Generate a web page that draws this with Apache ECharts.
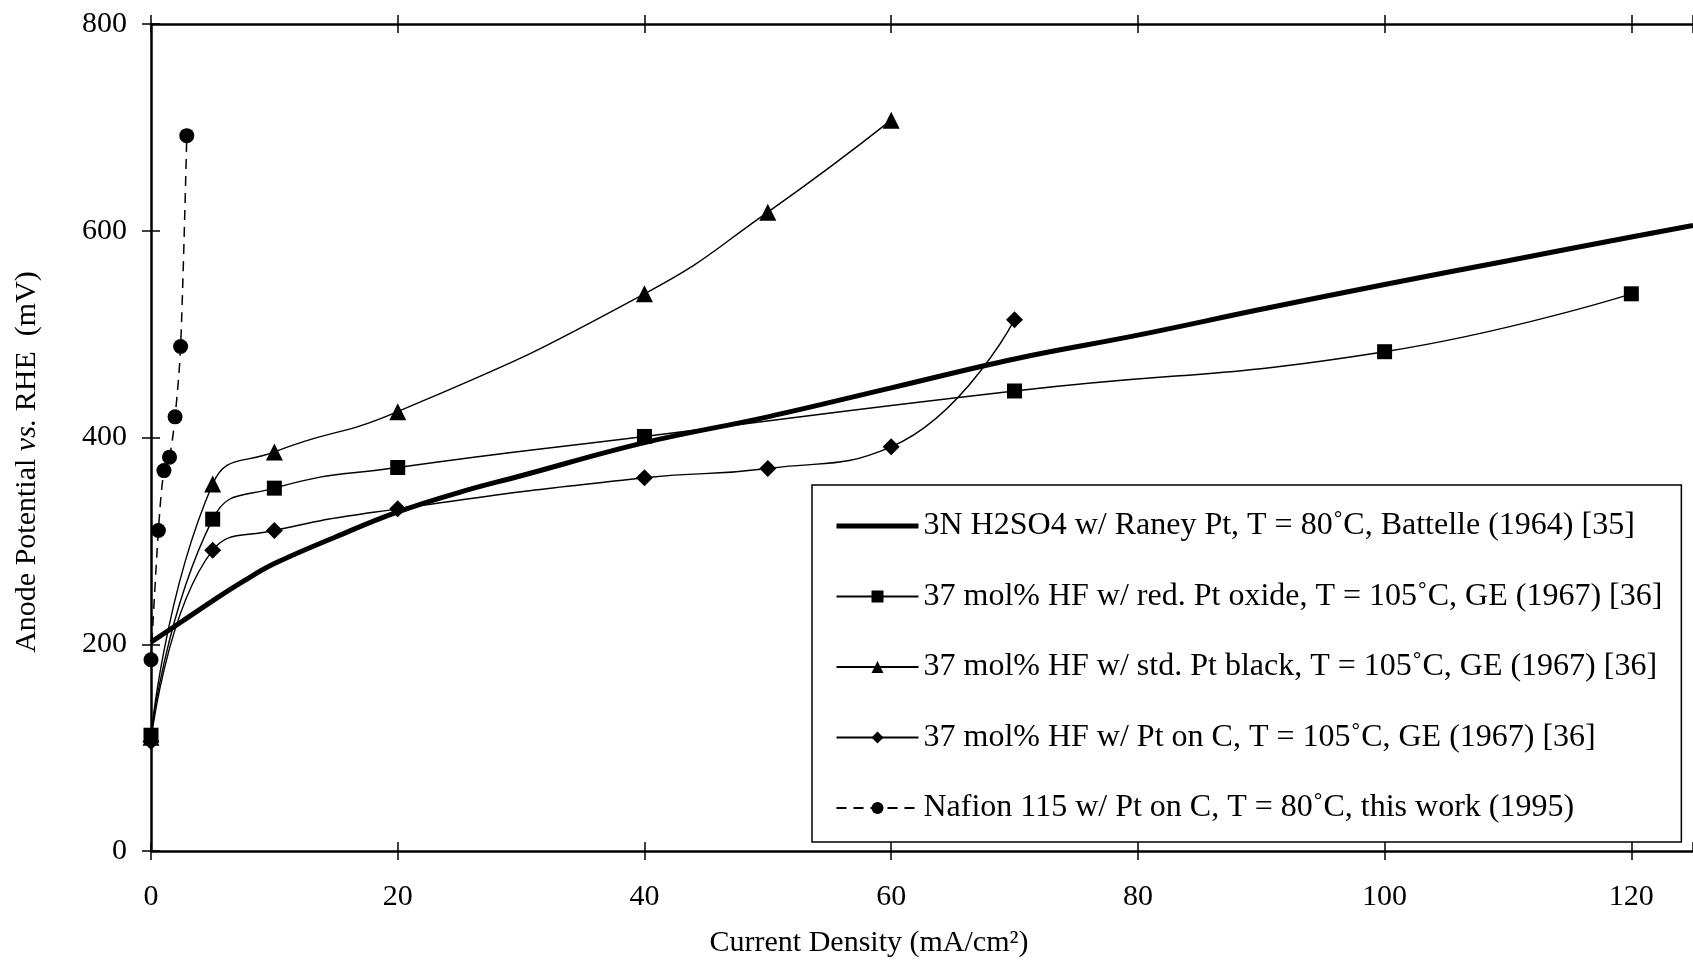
<!DOCTYPE html>
<html>
<head>
<meta charset="utf-8">
<script src="https://cdn.jsdelivr.net/npm/echarts@6/dist/echarts.min.js"></script>
<style>
  html, body { margin: 0; padding: 0; background: #fff; }
  #chart { width: 1693px; height: 960px; }
</style>
</head>
<body>
<div id="chart"></div>
<script>
// series names (legend)
const names = [
  '3N H2SO4 w/ Raney Pt, T = 80\u02DAC, Battelle (1964) [35]',
  '37 mol% HF w/ red. Pt oxide, T = 105\u02DAC, GE (1967) [36]',
  '37 mol% HF w/ std. Pt black, T = 105\u02DAC, GE (1967) [36]',
  '37 mol% HF w/ Pt on C, T = 105\u02DAC, GE (1967) [36]',
  'Nafion 115 w/ Pt on C, T = 80\u02DAC, this work (1995)'
]

// current density (mA/cm2) / anode potential (mV)
const battelleX = [0, 2.5, 5, 7.5, 10, 15, 20, 25, 30, 40, 50, 60, 70, 80, 90, 100, 110, 120, 125]
const battelleY = [202, 222, 242, 261, 278, 304, 328, 347, 363, 395, 420, 448, 476, 499, 524, 548, 571, 594, 605]

const oxideX = [0, 5, 10, 20, 40, 70, 100, 120]
const oxideY = [112, 321, 351, 371, 401, 445, 483, 539]

const blackX = [0, 5, 10, 20, 40, 50, 60]
const blackY = [110, 355, 386, 425, 539, 618, 707]

const carbonX = [0, 5, 10, 20, 40, 50, 60, 70]
const carbonY = [106, 291, 310, 331, 361, 370, 391, 514]

const nafionX = [0, 0.6, 1.05, 1.5, 1.95, 2.4, 2.9]
const nafionY = [185, 310, 368, 381, 420, 488, 692]

const xTicks = [0, 20, 40, 60, 80, 100, 120]
const yTicks = [0, 200, 400, 600, 800]

const zip = (xs, ys) => xs.map((x, i) => [x, ys[i]])

const FONT = 'Liberation Serif'
const X_MAX = 125

const chart = echarts.init(document.getElementById('chart'))

const baseX = {
  type: 'value',
  min: 0,
  max: X_MAX,
  interval: 20,
  splitLine: { show: false }
}
const baseY = {
  type: 'value',
  min: 0,
  max: 800,
  interval: 200,
  splitLine: { show: false }
}
const axisLine = { show: true, lineStyle: { color: '#000', width: 2.5 } }
const tickOut = { show: true, inside: false, length: 9, lineStyle: { color: '#000', width: 1.5 } }
const tickIn = { show: true, inside: true, length: 9, lineStyle: { color: '#000', width: 1.5 } }

const thin = { color: '#000', width: 1.4 }

const option = {
  backgroundColor: '#fff',
  animation: false,
  grid: { left: 151, right: 0, top: 24, bottom: 109, containLabel: false },
  xAxis: [
    {
      ...baseX,
      position: 'bottom',
      axisLine: axisLine,
      axisTick: tickOut,
      axisLabel: {
        margin: 31,
        color: '#000',
        fontFamily: FONT,
        fontSize: 30,
        showMaxLabel: false,
        formatter: v => (xTicks.includes(v) ? String(v) : '')
      }
    },
    { ...baseX, position: 'bottom', axisLine: { show: false }, axisTick: tickIn, axisLabel: { show: false } },
    { ...baseX, position: 'top', axisLine: axisLine, axisTick: tickOut, axisLabel: { show: false } },
    { ...baseX, position: 'top', axisLine: { show: false }, axisTick: tickIn, axisLabel: { show: false } }
  ],
  yAxis: [
    {
      ...baseY,
      position: 'left',
      axisLine: axisLine,
      axisTick: tickOut,
      axisLabel: {
        margin: 24,
        color: '#000',
        fontFamily: FONT,
        fontSize: 30,
        formatter: v => (yTicks.includes(v) ? String(v) : '')
      }
    },
    { ...baseY, position: 'left', axisLine: { show: false }, axisTick: tickIn, axisLabel: { show: false } }
  ],
  legend: {
    orient: 'vertical',
    left: 812,
    top: 485,
    padding: [25, 19, 18, 22],
    itemGap: 38.5,
    itemWidth: 82,
    itemHeight: 15,
    borderColor: '#000',
    borderWidth: 1.5,
    backgroundColor: '#fff',
    textStyle: { color: '#000', fontFamily: FONT, fontSize: 32, lineHeight: 30 },
    data: [
      {
        name: names[0],
        itemStyle: { color: 'rgba(0,0,0,0)', borderWidth: 0 },
        lineStyle: { color: '#000', width: 5 }
      },
      names[1],
      names[2],
      names[3],
      names[4]
    ]
  },
  graphic: [
    {
      type: 'text',
      x: 27,
      y: 462,
      rotation: Math.PI / 2,
      style: {
        text: '{a|Anode Potential }{i|vs.}{a| RHE  (mV)}',
        align: 'center',
        verticalAlign: 'middle',
        rich: {
          a: { fontFamily: FONT, fontSize: 30, fill: '#000' },
          i: { fontFamily: FONT, fontSize: 30, fontStyle: 'italic', fill: '#000' }
        }
      }
    },
    {
      type: 'text',
      x: 869,
      y: 943,
      style: {
        text: 'Current Density (mA/cm\u00B2)',
        align: 'center',
        verticalAlign: 'middle',
        fontFamily: FONT,
        fontSize: 30,
        fill: '#000'
      }
    }
  ],
  series: [
    {
      name: names[0],
      type: 'line',
      data: zip(battelleX, battelleY),
      smooth: 0.4,
      symbol: 'none',
      lineStyle: { color: '#000', width: 5 },
      itemStyle: { color: '#000' },
      z: 3
    },
    {
      name: names[1],
      type: 'line',
      data: zip(oxideX, oxideY),
      smooth: 0.5,
      symbol: 'rect',
      symbolSize: 15,
      lineStyle: thin,
      itemStyle: { color: '#000' }
    },
    {
      name: names[2],
      type: 'line',
      data: zip(blackX, blackY),
      smooth: 0.5,
      symbol: 'triangle',
      symbolSize: 17,
      lineStyle: thin,
      itemStyle: { color: '#000' }
    },
    {
      name: names[3],
      type: 'line',
      data: zip(carbonX, carbonY),
      smooth: 0.5,
      symbol: 'diamond',
      symbolSize: 17,
      lineStyle: thin,
      itemStyle: { color: '#000' }
    },
    {
      name: names[4],
      type: 'line',
      data: zip(nafionX, nafionY),
      smooth: 0.3,
      symbol: 'circle',
      symbolSize: 15,
      lineStyle: { color: '#000', width: 1.5, type: [10, 7] },
      itemStyle: { color: '#000' }
    }
  ]
}

chart.setOption(option)
</script>
</body>
</html>
